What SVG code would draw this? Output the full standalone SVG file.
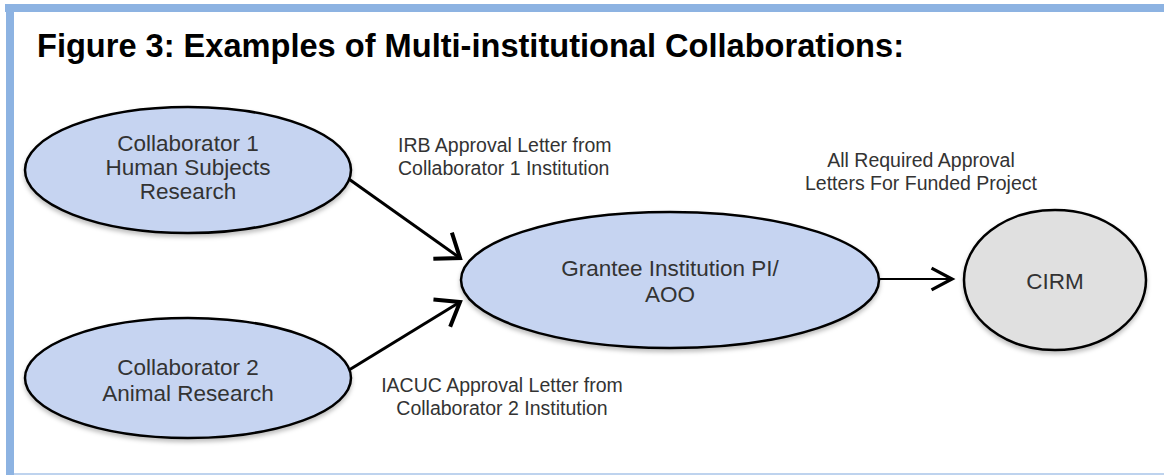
<svg xmlns="http://www.w3.org/2000/svg" width="1164" height="475" viewBox="0 0 1164 475">
  <style>
    .node { stroke: #000; stroke-width: 2.5; filter: url(#shadow); }
    .blue { fill: #c6d4f1; }
    .gray { fill: #e0e0e0; }
    .ntext { font-family: "Liberation Sans", Arial, sans-serif; font-size: 22.5px; fill: #333; text-anchor: middle; }
    .label { font-family: "Liberation Sans", Arial, sans-serif; font-size: 19.5px; fill: #333; }
    .title { font-family: "Liberation Sans", Arial, sans-serif; font-size: 32.6px; font-weight: bold; fill: #000; }
    .conn { stroke: #000; stroke-width: 3; fill: none; marker-end: url(#arrow); }
    .conn-thin { stroke: #000; stroke-width: 2.2; fill: none; marker-end: url(#arrowSmall); }
  </style>
  <defs>
    <filter id="shadow" x="-10%" y="-10%" width="120%" height="130%">
      <feDropShadow dx="0" dy="3" stdDeviation="2" flood-color="#000" flood-opacity="0.25"/>
    </filter>
    <marker id="arrow" markerUnits="userSpaceOnUse" markerWidth="40" markerHeight="40" viewBox="-20 -15 24 30" refX="0" refY="0" orient="auto" overflow="visible">
      <path d="M-16,-12 L0,0 L-16,12" fill="none" stroke="#000" stroke-width="3" stroke-linejoin="miter"/>
    </marker>
    <marker id="arrowSmall" markerUnits="userSpaceOnUse" markerWidth="30" markerHeight="30" viewBox="-18 -10 22 20" refX="0" refY="0" orient="auto" overflow="visible">
      <path d="M-15,-8 L0,0 L-15,8" fill="none" stroke="#000" stroke-width="2.4" stroke-linejoin="miter"/>
    </marker>
  </defs>

  <rect x="0" y="0" width="1164" height="475" fill="#fff"/>
  <!-- frame -->
  <rect x="5" y="4" width="1159" height="8" fill="#8db3e2"/>
  <rect x="6" y="4" width="8" height="471" fill="#8db3e2"/>
  <line x1="14" y1="474" x2="1164" y2="474" stroke="#a9c4e8" stroke-width="1.5"/>

  <text class="title" x="37" y="57">Figure 3: Examples of Multi-institutional Collaborations:</text>

  <g id="connectors">
    <line class="conn" x1="346" y1="177" x2="460" y2="258"/>
    <line class="conn" x1="349" y1="370" x2="460" y2="302"/>
    <line class="conn-thin" x1="879" y1="279" x2="952" y2="279"/>
  </g>

  <g id="labels">
    <text class="label" x="398" y="152">IRB Approval Letter from</text>
    <text class="label" x="398" y="175">Collaborator 1 Institution</text>
    <text class="label" x="921" y="167" text-anchor="middle">All Required Approval</text>
    <text class="label" x="921" y="190" text-anchor="middle">Letters For Funded Project</text>
    <text class="label" x="502" y="392" text-anchor="middle">IACUC Approval Letter from</text>
    <text class="label" x="502" y="415" text-anchor="middle">Collaborator 2 Institution</text>
  </g>

  <g id="collab1">
    <ellipse class="node blue" cx="188" cy="170" rx="163" ry="63"/>
    <text class="ntext" x="188" y="151">Collaborator 1</text>
    <text class="ntext" x="188" y="175">Human Subjects</text>
    <text class="ntext" x="188" y="199">Research</text>
  </g>

  <g id="collab2">
    <ellipse class="node blue" cx="188" cy="378" rx="163" ry="60"/>
    <text class="ntext" x="188" y="375">Collaborator 2</text>
    <text class="ntext" x="188" y="401">Animal Research</text>
  </g>

  <g id="grantee">
    <ellipse class="node blue" cx="670" cy="280" rx="209" ry="68"/>
    <text class="ntext" x="670" y="276">Grantee Institution PI/</text>
    <text class="ntext" x="670" y="302">AOO</text>
  </g>

  <g id="cirm">
    <ellipse class="node gray" cx="1055" cy="280" rx="91" ry="70"/>
    <text class="ntext" x="1055" y="289">CIRM</text>
  </g>
</svg>
